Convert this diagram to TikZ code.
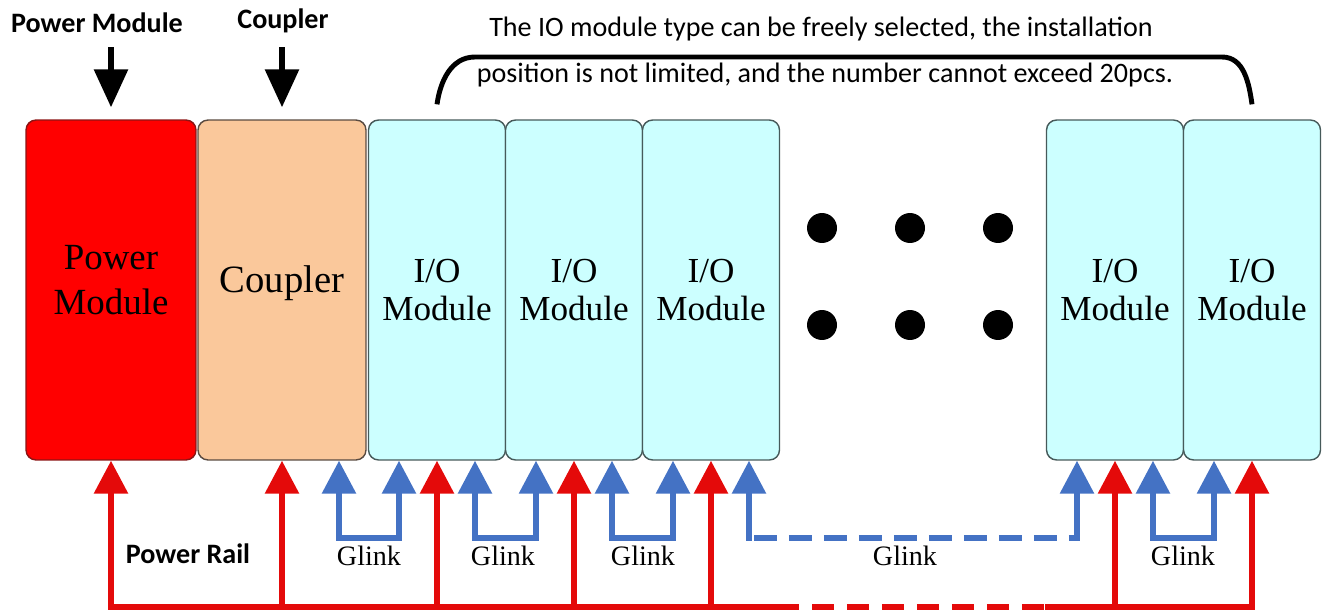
\documentclass[tikz,border=0pt]{standalone}
\usepackage{fontspec}
\setmainfont{Liberation Serif}
\newfontfamily\calibri{Carlito}
\usetikzlibrary{arrows.meta}

\definecolor{pwrred}{RGB}{255,0,0}
\definecolor{pwrline}{RGB}{140,20,20}
\definecolor{cplpeach}{RGB}{250,200,155}
\definecolor{cplline}{RGB}{90,75,65}
\definecolor{iocyan}{RGB}{204,255,255}
\definecolor{ioline}{RGB}{70,90,90}
\definecolor{railred}{RGB}{228,10,10}
\definecolor{glinkblue}{RGB}{68,114,196}

\begin{document}
\begin{tikzpicture}[x=0.02cm, y=-0.02cm]
\tikzstyle{module} = [draw, rounded corners=0.2cm, line width=0.8pt, minimum height=6.8cm, inner sep=0pt, align=center]
\tikzstyle{pwr_m} = [module, fill=pwrred, draw=pwrline, minimum width=3.4cm, text depth=0.4cm, font=\fontsize{21}{25.5}\selectfont]
\tikzstyle{cpl_m} = [module, fill=cplpeach, draw=cplline, minimum width=3.36cm, text depth=0.45cm, font=\fontsize{22}{26}\selectfont]
\tikzstyle{io_m} = [module, fill=iocyan, draw=ioline, minimum width=2.74cm, font=\fontsize{20}{22}\selectfont]
\tikzstyle{top_label} = [inner sep=0pt, anchor=base, font=\calibri\bfseries\fontsize{16}{19}\selectfont]
\tikzstyle{note} = [inner sep=0pt, anchor=base, font=\calibri\fontsize{16}{19}\selectfont]
\tikzstyle{glink_label} = [inner sep=0pt, anchor=base, font=\fontsize{16}{19}\selectfont]
\tikzstyle{tip} = [-{Triangle[width=0.66cm,length=0.66cm]}]
\tikzstyle{rail} = [line width=3.4pt, draw=railred]
\tikzstyle{glink} = [line width=3.4pt, draw=glinkblue]
\tikzstyle{pointer} = [line width=3.4pt, -{Triangle[width=0.66cm,length=0.76cm]}]
\tikzstyle{brace} = [line width=2.8pt]
\def\midy{290}
\def\drop{77}

\useasboundingbox (0,0) rectangle (1325,615);

%modules
\node[pwr_m] (pwr) at (111,\midy) {Power\\Module};
\node[cpl_m] (cpl) at (282,\midy) {Coupler};
\foreach \name/\x in {io1/437, io2/574, io3/711, io4/1115, io5/1252}
  	\node[io_m] (\name) at (\x,\midy) {I/O\\Module};

%more modules
\foreach \x in {822, 910, 998}
	\foreach \y in {228, 325}
		\fill (\x,\y) circle (0.3cm);

%labels on top
\node[top_label] (lblpwr) at (97,33) {Power Module};
\node[top_label] (lblcpl) at (283,29) {Coupler};
\draw[pointer] ([yshift=1.44cm]pwr.north) -- ([yshift=0.24cm]pwr.north);
\draw[pointer] ([yshift=1.44cm]cpl.north) -- ([yshift=0.24cm]cpl.north);

\node[note] (note1) at (821,37) {The IO module type can be freely selected, the installation};
\node[note] (note2) at (825,83) {position is not limited, and the number cannot exceed 20pcs.};
\coordinate (braceL) at (475,57);
\coordinate (braceR) at (1222,57);
\draw[brace] ([yshift=0.3cm]io1.north) to[out=82,in=180] (braceL) -- (braceR) to[out=0,in=98] ([yshift=0.3cm]io5.north);

%power rail
\coordinate (railL) at (777,607);
\coordinate (railR) at (1045,607);
\draw[rail, tip] (railL) -| (pwr.south);
\draw[rail, tip] (railR) -| (io5.south);
\draw[rail, dash pattern=on 0.44cm off 0.26cm] (railL) -- (railR);
\foreach \m in {cpl, io1, io2, io3, io4}
	\draw[rail, tip] (\m.south |- railL) -- (\m.south);
\node[top_label] (lblrail) at (188,563) {Power Rail};

%glinks
\draw[glink, {Triangle[width=0.66cm,length=0.66cm]}-{Triangle[width=0.66cm,length=0.66cm]}] ([xshift=1.14cm]cpl.south) -- ++(0,\drop) -| ([xshift=-0.76cm]io1.south);
\foreach \a/\b in {io1/io2, io2/io3, io4/io5}
	\draw[glink, {Triangle[width=0.66cm,length=0.66cm]}-{Triangle[width=0.66cm,length=0.66cm]}] ([xshift=0.76cm]\a.south) -- ++(0,\drop) -| ([xshift=-0.76cm]\b.south);

\coordinate (dashL) at ([xshift=0.76cm,yshift=-1.54cm]io3.south);
\coordinate (dashR) at ([xshift=-0.76cm,yshift=-1.54cm]io4.south);
\draw[glink, tip, line cap=rect] (dashL) -- ([xshift=0.76cm]io3.south);
\draw[glink, tip, line cap=rect] (dashR) -- ([xshift=-0.76cm]io4.south);
\draw[glink, dash pattern=on 0.46cm off 0.24cm, dash phase=-0.1cm] (dashL) -- (dashR);

\foreach \name/\x in {gl1/369, gl2/503, gl3/643, gl4/905, gl5/1183}
	\node[glink_label] (\name) at (\x,565) {Glink};
\end{tikzpicture}
\end{document}
